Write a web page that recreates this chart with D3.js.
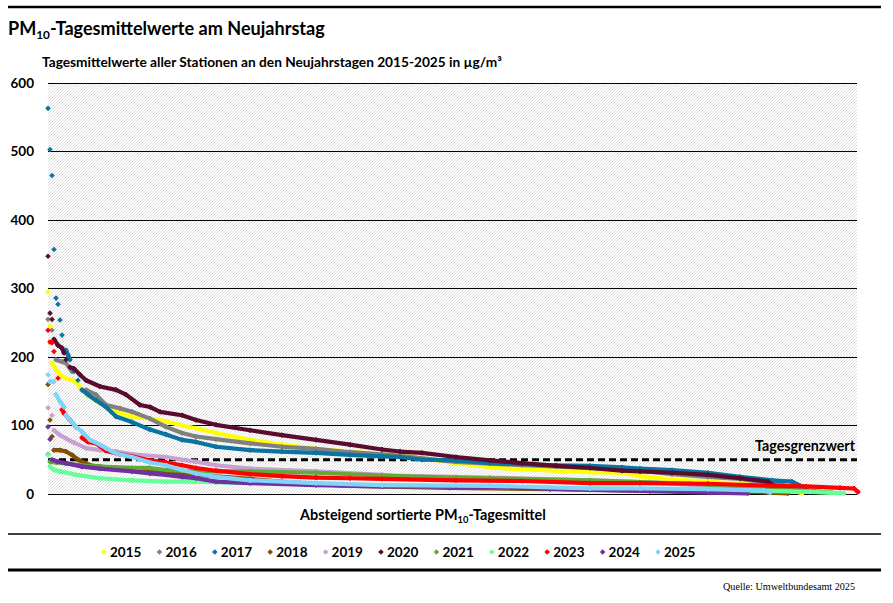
<!DOCTYPE html>
<html><head><meta charset="utf-8">
<script src="https://cdn.jsdelivr.net/npm/d3@7"></script>
<style>
html,body{margin:0;padding:0;background:#fff;}
svg{display:block;}
text{font-family:Lato,"Liberation Sans",sans-serif;font-weight:bold;fill:#000;}
</style></head>
<body>
<svg id="c" width="893" height="603"></svg>
<script>
// ---- data ----
const years = ["2015","2016","2017","2018","2019","2020","2021","2022","2023","2024","2025"];
const yTicks = [0,100,200,300,400,500,600];
const limitValue = 50;
const maxRank = 405;

const s2015 = [[0,295],[1,245],[2,191],[4,182],[6,174],[9,169],[14,164],[17,152],[21,142],[26,133],[34,120],[42,113],[51,110],[59,106],[67,100],[74,96],[84,89],[101,79],[117,72],[134,66],[151,62],[167,58],[176,57],[187,52],[204,45],[221,39],[237,36],[254,34],[271,32],[287,31],[296,26],[312,21],[330,18],[346,15],[361,11],[371,6],[377,1]];
const s2016 = [[0,255],[2,239],[4,196],[7,193],[9,191],[12,179],[19,152],[24,145],[29,130],[36,125],[42,120],[51,110],[59,98],[67,89],[74,84],[84,80],[101,74],[117,69],[134,66],[151,61],[167,58],[171,57],[204,47],[237,42],[271,38],[296,34],[312,29],[330,25],[346,22],[362,16],[376,8],[386,3]];
const s2017 = [[0,563],[1,503],[2,465],[3,357],[4,286],[5,277],[6,254],[7,232],[9,210],[10,203],[11,196],[13,179],[15,166],[17,152],[20,145],[24,137],[29,127],[34,113],[42,105],[51,94],[59,87],[67,79],[74,76],[84,69],[101,64],[117,62],[134,60],[151,57],[167,55],[176,54],[187,50],[204,49],[221,45],[254,42],[271,41],[287,39],[296,37],[312,35],[330,31],[346,25],[362,20],[372,18],[377,11],[379,7]];
const s2018 = [[0,160],[1,108],[2,84],[3,64],[6,64],[9,62],[12,57],[15,50],[21,42],[26,40],[42,36],[59,33],[74,28],[101,22],[126,16],[151,12],[201,9],[251,7],[301,5],[351,3],[370,1]];
const s2019 = [[0,126],[2,115],[3,93],[6,86],[9,81],[13,75],[19,67],[26,64],[34,62],[42,58],[59,54],[74,47],[84,42],[101,37],[134,33],[167,28],[171,27],[221,24],[271,20],[301,17],[331,12],[350,7]];
const s2020 = [[0,347],[1,264],[2,255],[3,226],[5,217],[7,213],[8,206],[9,196],[11,185],[13,183],[16,174],[19,166],[26,157],[34,152],[39,145],[46,130],[51,127],[56,120],[67,115],[74,108],[84,101],[101,93],[117,86],[134,79],[151,72],[167,65],[176,62],[187,60],[204,54],[221,49],[237,45],[254,41],[271,38],[287,34],[296,33],[312,31],[330,28],[346,23],[360,18],[363,12]];
const s2021 = [[0,58],[1,47],[4,46],[17,42],[26,40],[42,38],[51,38],[59,35],[74,33],[101,33],[134,31],[167,27],[187,25],[204,24],[221,23],[271,20],[321,15],[361,9],[381,4],[392,2]];
const s2022 = [[0,57],[1,40],[3,35],[6,33],[14,28],[26,23],[42,20],[59,18],[74,18],[101,16],[151,13],[201,11],[251,9],[301,7],[351,5],[381,3],[398,1]];
const s2023 = [[0,239],[1,222],[2,221],[3,208],[5,169],[7,123],[8,118],[11,108],[14,98],[17,82],[20,76],[24,74],[29,63],[34,59],[42,55],[51,49],[59,46],[67,42],[74,38],[84,34],[101,29],[117,26],[134,24],[151,23],[167,22],[204,20],[237,19],[271,16],[296,16],[330,15],[362,12],[379,11],[396,9],[403,8],[405,3]];
const s2024 = [[0,98],[1,80],[2,50],[5,47],[9,45],[17,40],[26,37],[42,33],[51,30],[59,28],[67,25],[74,23],[84,18],[101,16],[134,13],[167,11],[187,11],[237,9],[271,6],[301,4],[331,2],[350,1]];
const s2025 = [[0,174],[1,164],[3,164],[4,145],[6,135],[8,127],[9,115],[11,108],[14,98],[17,91],[21,79],[26,72],[29,67],[34,59],[42,54],[51,46],[59,42],[67,35],[74,30],[84,25],[101,20],[134,16],[167,13],[221,12],[271,8],[296,8],[330,7],[358,5],[361,2]];
const seriesData = [s2015,s2016,s2017,s2018,s2019,s2020,s2021,s2022,s2023,s2024,s2025];

// ---- styles ----
const colors = ["#FFFF00","#808080","#0A73A0","#7F5000","#C9A0D2","#5A0C2E","#62AA38","#66FF99","#FF0000","#7030A0","#80D4FA"];

const svg = d3.select("#c");
const L = 48, R = 857, T = 83, B = 494;
const x = d3.scaleLinear().domain([0, maxRank]).range([L, 858]);
const y = d3.scaleLinear().domain([0, 600]).range([B, T]);

// hatch pattern
const defs = svg.append("defs");
const pat = defs.append("pattern").attr("id","hatch").attr("patternUnits","userSpaceOnUse")
  .attr("width",3).attr("height",3);
pat.append("rect").attr("width",3).attr("height",3).attr("fill","#fff");
pat.append("path").attr("d","M-1,1 l2,-2 M0,3 l3,-3 M2,4 l2,-2")
  .attr("stroke","#d2d2d2").attr("stroke-width",0.8);

// rules
function rule(y0, w){ svg.append("line").attr("x1",8).attr("x2",881).attr("y1",y0).attr("y2",y0).attr("stroke","#000").attr("stroke-width",w); }
rule(7,2.5); rule(534,1.5); rule(570,3);

// fit helper
function fit(sel, target){
  const fs = parseFloat(sel.attr("font-size"));
  const w = sel.node().getComputedTextLength();
  sel.attr("font-size", (fs*target/w).toFixed(2));
}

// title
const title = svg.append("text").attr("x",8).attr("y",35).attr("font-size",18);
title.append("tspan").text("PM");
title.append("tspan").attr("font-size","0.65em").attr("dy",4).text("10");
title.append("tspan").attr("dy",-4).text("-Tagesmittelwerte am Neujahrstag");
fit(title, 317);

const sub = svg.append("text").attr("x",42).attr("y",67).attr("font-size",13)
  .text("Tagesmittelwerte aller Stationen an den Neujahrstagen 2015-2025 in µg/m³");
fit(sub, 460);

// plot background
svg.append("rect").attr("x",L).attr("y",T).attr("width",R-L).attr("height",B-T).attr("fill","url(#hatch)");

// grid
svg.append("g").selectAll("line").data(yTicks).join("line")
  .attr("x1",L).attr("x2",R).attr("y1",d=>y(d)).attr("y2",d=>y(d))
  .attr("stroke","#000").attr("stroke-width",1).attr("shape-rendering","crispEdges");

// y axis labels
const yAxis = d3.axisLeft(y).tickValues(yTicks).tickSize(0).tickPadding(0).tickFormat(d3.format("d"));
const ga = svg.append("g").attr("transform","translate(34,0)").call(yAxis);
ga.select(".domain").remove();
ga.selectAll("text").attr("font-family","Lato, 'Liberation Sans', sans-serif")
  .attr("font-weight","bold").attr("font-size",13.5).attr("fill","#000");

// limit line
svg.append("line").attr("x1",L).attr("x2",R).attr("y1",y(limitValue)).attr("y2",y(limitValue))
  .attr("stroke","#000").attr("stroke-width",3).attr("stroke-dasharray","7,4");
const lim = svg.append("text").attr("x",855).attr("y",451).attr("text-anchor","end").attr("font-size",14).text("Tagesgrenzwert");
fit(lim, 100);

// series
const diamond = "M0,-2.8L2.8,0L0,2.8L-2.8,0Z";
const gS = svg.append("g");
seriesData.forEach((pts, i) => {
  const g = gS.append("g");
  const segs = [];
  for (let k = 1; k < pts.length; k++) {
    const dx = x(pts[k][0]) - x(pts[k-1][0]);
    const dy = Math.abs(y(pts[k][1]) - y(pts[k-1][1]));
    if (dy <= dx*1.0 + 3) segs.push([pts[k-1], pts[k]]);
  }
  const line = d3.line().x(d=>x(d[0])).y(d=>y(d[1]));
  g.selectAll("path.seg").data(segs).join("path").attr("class","seg")
    .attr("d", line).attr("fill","none").attr("stroke",colors[i])
    .attr("stroke-width",4.2).attr("stroke-linecap","round");
  g.selectAll("path.pt").data(pts).join("path").attr("class","pt")
    .attr("d", diamond).attr("transform", d=>`translate(${x(d[0])},${y(d[1])})`)
    .attr("fill", colors[i]);
});

// x axis title
const xt = svg.append("text").attr("x",423).attr("y",520).attr("text-anchor","middle").attr("font-size",13.5);
xt.append("tspan").text("Absteigend sortierte PM");
xt.append("tspan").attr("font-size","0.65em").attr("dy",3).text("10");
xt.append("tspan").attr("dy",-3).text("-Tagesmittel");
fit(xt, 246);

// legend
const lg = svg.append("g");
const lx = d3.scalePoint().domain(years).range([104, 658]);
const items = lg.selectAll("g").data(years).join("g").attr("transform", d=>`translate(${lx(d)},552)`);
items.append("path").attr("d","M0,-2.8L2.8,0L0,2.8L-2.8,0Z").attr("fill",(d,i)=>colors[i]);
items.append("text").attr("x",6).attr("y",5).attr("font-size",13.5).text(d=>d);

// source
const src = svg.append("text").attr("x",855).attr("y",590).attr("text-anchor","end")
  .style("font-family","'Liberation Serif', serif").style("font-weight","normal").style("fill","#000")
  .attr("font-size",9).text("Quelle: Umweltbundesamt 2025");
fit(src, 132);
</script>
</body></html>
